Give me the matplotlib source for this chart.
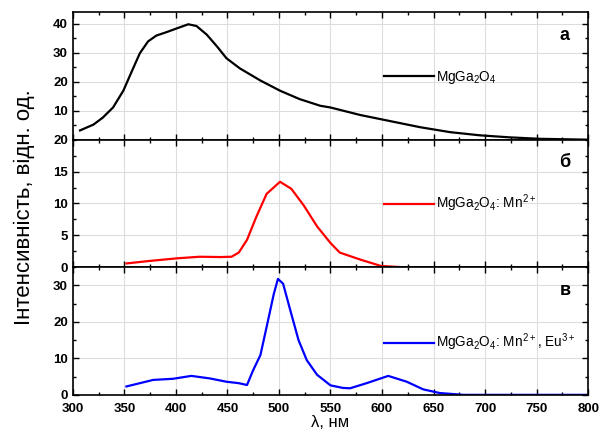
import matplotlib
matplotlib.use("Agg")
import matplotlib.pyplot as plt
from matplotlib.ticker import MultipleLocator

plt.rcParams['font.family'] = ['Liberation Sans', 'DejaVu Sans']
plt.rcParams['mathtext.fontset'] = 'custom'
plt.rcParams['mathtext.rm'] = 'Liberation Sans'
plt.rcParams['mathtext.default'] = 'regular'

# спектри
wl_a = [307, 320, 329, 339, 349, 357, 365, 373, 381, 391, 401, 412, 420, 430, 440,
        449, 462, 482, 501, 520, 540, 550, 579, 608, 637, 666, 695, 724, 753, 800]
int_a = [3.2, 5.2, 7.6, 11.1, 16.9, 23.4, 29.8, 33.9, 35.9, 37.1, 38.4, 39.8, 39.2,
         36.2, 32.1, 28.1, 24.6, 20.4, 16.9, 14.0, 11.7, 11.1, 8.5, 6.4, 4.3, 2.6,
         1.5, 0.8, 0.3, 0.0]

wl_b = [352, 375, 401, 423, 443, 454, 461, 469, 478, 488, 501, 512, 524, 537, 550,
        559, 579, 599, 621, 800]
int_b = [0.6, 1.0, 1.4, 1.65, 1.6, 1.65, 2.3, 4.3, 7.9, 11.5, 13.4, 12.3, 9.7, 6.4,
         3.8, 2.3, 1.2, 0.2, 0.0, 0.0]

wl_c = [352, 365, 378, 397, 415, 433, 449, 461, 469, 475, 482, 488, 495, 499, 504,
        511, 519, 527, 537, 550, 562, 569, 585, 606, 624, 640, 656, 679, 800]
int_c = [2.3, 3.2, 4.1, 4.4, 5.2, 4.5, 3.6, 3.2, 2.7, 6.8, 10.9, 18.6, 27.7, 31.8,
         30.5, 23.2, 15.0, 9.5, 5.5, 2.6, 1.9, 1.8, 3.2, 5.2, 3.6, 1.5, 0.5, 0.0, 0.0]

labels = ['MgGa$_2$O$_4$', 'MgGa$_2$O$_4$: Mn$^{2+}$', 'MgGa$_2$O$_4$: Mn$^{2+}$, Eu$^{3+}$']
letters = ['а', 'б', 'в']
colors = ['black', 'red', 'blue']
ylims = [(0, 44), (0, 20), (0, 35)]
yticks = [[0, 10, 20, 30, 40], [0, 5, 10, 15], [0, 10, 20, 30]]
yticklabels = [['20', '10', '20', '30', '40'], ['0', '5', '10', '15'], ['0', '10', '20', '30']]
yminor = [5, 2.5, 5]
leg_y = [0.49, 0.50, 0.41]

fig, axes = plt.subplots(3, 1, sharex=True, figsize=(6.02, 4.32), dpi=100)
fig.subplots_adjust(left=0.121, right=0.977, bottom=0.086, top=0.972, hspace=0)

data = [(wl_a, int_a), (wl_b, int_b), (wl_c, int_c)]
for i, ax in enumerate(axes):
    x, y = data[i]
    ax.plot(x, y, color=colors[i], lw=1.6, label=labels[i])
    ax.set_xlim(300, 800)
    ax.set_ylim(*ylims[i])
    ax.set_yticks(yticks[i])
    ax.set_yticklabels(yticklabels[i])
    ax.xaxis.set_major_locator(MultipleLocator(50))
    ax.xaxis.set_minor_locator(MultipleLocator(25))
    ax.yaxis.set_minor_locator(MultipleLocator(yminor[i]))
    ax.grid(True, which='major', color='#dddddd', lw=0.8)
    ax.tick_params(which='both', direction='in', top=True, right=True, labelsize=9.5)
    ax.tick_params(axis='x', pad=6)
    ax.tick_params(which='major', length=4, width=1)
    ax.tick_params(which='minor', length=2, width=1)
    for lab in ax.get_xticklabels() + ax.get_yticklabels():
        lab.set_fontweight('bold')
    for s in ax.spines.values():
        s.set_linewidth(1.2)
    ax.legend(loc='center left', bbox_to_anchor=(0.58, leg_y[i]), frameon=False,
              fontsize=9.8, handlelength=3.7, handletextpad=0.15)
    ax.text(0.955, 0.82, letters[i], transform=ax.transAxes, ha='center', va='center',
            fontsize=13, fontweight='bold')

axes[2].set_xlabel('λ, нм', fontsize=12, labelpad=0)
fig.text(0.04, 0.52, 'Інтенсивність, відн. од.', rotation=90, ha='center', va='center',
         fontsize=16)

fig.savefig('out.png', dpi=100)
